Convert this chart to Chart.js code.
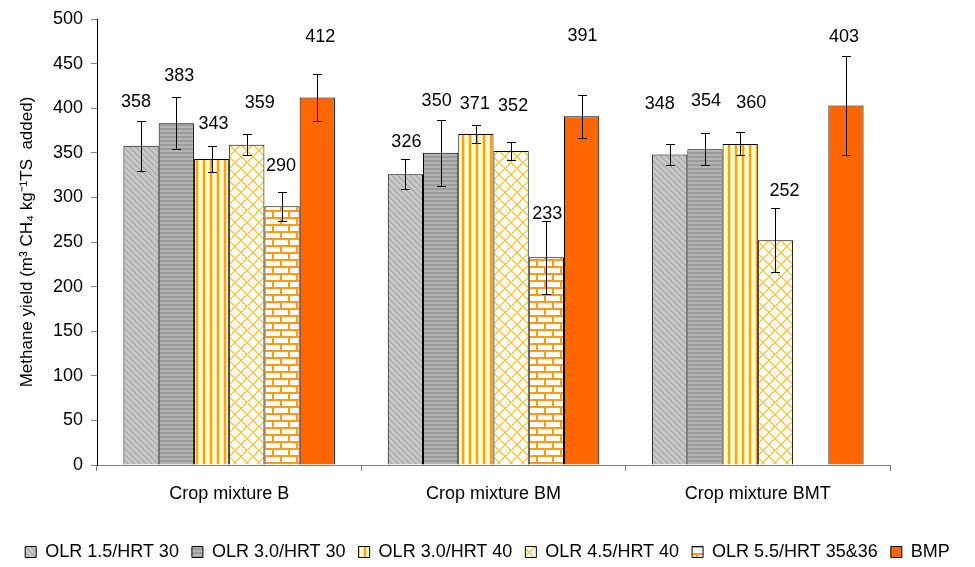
<!DOCTYPE html>
<html><head><meta charset="utf-8">
<script src="https://cdn.jsdelivr.net/npm/chart.js@4.4.0/dist/chart.umd.min.js"></script>
<style>html,body{margin:0;padding:0;background:#fff;}#wrap{width:975px;height:567px;}</style>
</head><body><div id="wrap"><canvas id="c" width="975" height="567"></canvas></div>
<script>
// ---- data ----
const categories = ['Crop mixture B', 'Crop mixture BM', 'Crop mixture BMT'];
const seriesNames = ['OLR 1.5/HRT 30', 'OLR 3.0/HRT 30', 'OLR 3.0/HRT 40', 'OLR 4.5/HRT 40', 'OLR 5.5/HRT 35&36', 'BMP'];
const olr15hrt30 = [358, 326, 348];
const olr30hrt30 = [383, 350, 354];
const olr30hrt40 = [343, 371, 360];
const olr45hrt40 = [359, 352, 252];
const olr55hrt3536 = [290, 233, null];
const bmp = [412, 391, 403];
const err15hrt30 = [28, 17, 12];
const err30hrt30 = [29, 37, 18];
const err30hrt40 = [15, 10, 13];
const err45hrt40 = [12, 10, 36];
const err55hrt3536 = [16, 41, null];
const errBmp = [26, 24, 55];
const yTickValues = [0, 50, 100, 150, 200, 250, 300, 350, 400, 450, 500];

// ---- patterns ----
function pixPattern(w, h, fn) {
  const c = document.createElement('canvas');
  c.width = w; c.height = h;
  const g = c.getContext('2d');
  for (let y = 0; y < h; y++) for (let x = 0; x < w; x++) {
    g.fillStyle = fn(x, y); g.fillRect(x, y, 1, 1);
  }
  return g.createPattern(c, 'repeat');
}
const mod = (a, n) => ((a % n) + n) % n;
const patDiag = pixPattern(6, 6, (x, y) => { const d = mod(x - y, 6); return d === 0 ? '#a4a4a4' : (d === 1 ? '#b4b4b4' : '#c8c8c8'); });
const patHoriz = pixPattern(4, 4, (x, y) => y < 2 ? '#9a9a9a' : '#b4b4b4');
const patVert = pixPattern(7, 7, (x, y) => x < 2 ? '#ff9f1a' : (x === 2 || x === 6 ? '#ffe9a0' : '#ffffc8'));
const patCross = pixPattern(12, 12, (x, y) => (mod(x + y, 12) < 2 || mod(x - y, 12) < 2) ? '#ffcf40' : '#ffffff');
const patBrick = pixPattern(16, 14, (x, y) => {
  const row = y < 7 ? 0 : 1;
  const yy = y % 7;
  const vx = row === 0 ? 0 : 8;
  if (yy < 2) return '#ff9a14';
  if (x === vx || x === vx + 1) return '#ff9a14';
  return '#ffffff';
});

const seriesValues = [olr15hrt30, olr30hrt30, olr30hrt40, olr45hrt40, olr55hrt3536, bmp];
const seriesErrors = [err15hrt30, err30hrt30, err30hrt40, err45hrt40, err55hrt3536, errBmp];
const fills = [patDiag, patHoriz, patVert, patCross, patBrick, '#ff6600'];

const datasets = seriesNames.map((name, i) => ({
  label: name,
  data: seriesValues[i],
  errors: seriesErrors[i],
  backgroundColor: fills[i],
  borderColor: '#000000',
  borderWidth: 1,
  yAxisID: 'y'
}));

// label placement tweaks (pixels above error-bar top, horizontal shift)
const labelLift = [[19, 17, 40], [21, 19, 32], [22, 21, 29], [31, 36, 17], [26, 7, 0], [37, 59, 19]];
const labelShift = [[-5, 1, -10], [3, -4, 1], [2, -1, 11], [13, 2, 9], [-1, 1, 0], [3, 1, -2]];

const errorLabelPlugin = {
  id: 'errorLabels',
  afterLayout(chart) {
    if (chart.legend) { chart.legend.top += 4; chart.legend.bottom += 4; }
  },
  afterDatasetsDraw(chart) {
    const ctx = chart.ctx;
    const ys = chart.scales.y;
    ctx.save();
    chart.data.datasets.forEach((ds, di) => {
      const meta = chart.getDatasetMeta(di);
      ds.data.forEach((v, i) => {
        if (v == null) return;
        const bar = meta.data[i];
        const e = ds.errors[i] || 0;
        const x = Math.round(bar.x) + 0.5;
        const yt = Math.round(ys.getPixelForValue(v + e)) + 0.5;
        const yb = Math.round(ys.getPixelForValue(v - e)) + 0.5;
        ctx.strokeStyle = '#000';
        ctx.lineWidth = 1;
        ctx.beginPath();
        ctx.moveTo(x, yt); ctx.lineTo(x, yb);
        ctx.moveTo(x - 4.5, yt); ctx.lineTo(x + 4.5, yt);
        ctx.moveTo(x - 4.5, yb); ctx.lineTo(x + 4.5, yb);
        ctx.stroke();
        ctx.fillStyle = '#000';
        ctx.font = "18px 'Liberation Sans', Arial, sans-serif";
        ctx.textAlign = 'center';
        ctx.textBaseline = 'middle';
        ctx.fillText(String(v), bar.x + labelShift[di][i], yt - labelLift[di][i]);
      });
    });
    ctx.restore();
  }
};

Chart.defaults.font.family = "'Liberation Sans', Arial, sans-serif";
Chart.defaults.color = '#000';

new Chart(document.getElementById('c'), {
  type: 'bar',
  data: { labels: categories, datasets },
  options: {
    responsive: false,
    animation: false,
    layout: { padding: { left: 0, right: 0, top: 19, bottom: 0 } },
    datasets: { bar: { categoryPercentage: 0.8, barPercentage: 1.0 } },
    scales: {
      x: {
        grid: { display: true, drawOnChartArea: false, drawTicks: true, tickLength: 6, color: '#808080', offset: true },
        border: { display: true, color: '#808080' },
        ticks: { font: { size: 18 }, padding: 12, color: '#000' },
        afterFit(s) { s.height = 61; }
      },
      y: {
        position: 'left',
        min: 0, max: 500,
        afterBuildTicks(s) { s.ticks = yTickValues.map(v => ({ value: v })); },
        ticks: { font: { size: 18 }, padding: 8, color: '#000' },
        grid: { drawOnChartArea: false, tickLength: 6, color: '#808080' },
        border: { display: true, color: '#000' },
        title: { display: true, text: 'Methane yield (m³ CH₄ kg⁻¹TS  added)', font: { size: 17 }, padding: { top: 17, bottom: 0 }, color: '#000' },
        afterFit(s) { s.width = 97; }
      },
      yR: {
        type: 'linear',
        position: 'right',
        display: true,
        grid: { display: false, drawTicks: false },
        border: { display: false },
        ticks: { display: false },
        afterFit(s) { s.width = 85; }
      }
    },
    plugins: {
      legend: {
        position: 'bottom',
        labels: { boxWidth: 11, boxHeight: 11, font: { size: 18 }, padding: 13, color: '#000' }
      },
      tooltip: { enabled: false }
    }
  },
  plugins: [errorLabelPlugin]
});
</script>
</body></html>
